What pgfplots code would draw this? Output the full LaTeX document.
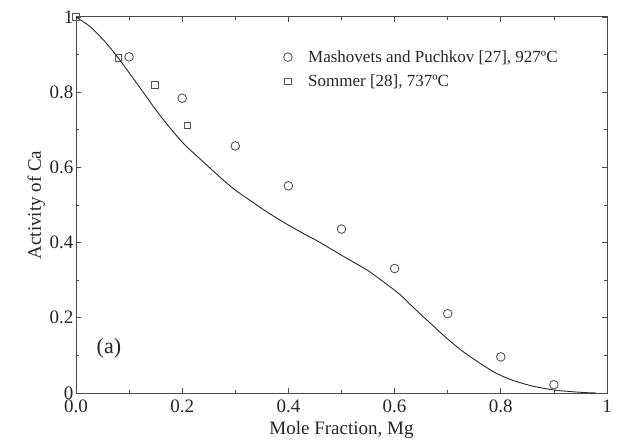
\documentclass[border=0pt]{standalone}
\usepackage{pgfplots}
\pgfplotsset{compat=1.18}
\usepackage{fontspec}
\setmainfont{Liberation Serif}
\definecolor{axgray}{HTML}{4A4A4A}
\definecolor{mkgray}{HTML}{555555}
\begin{document}
\begin{tikzpicture}
\begin{axis}[
  scale only axis,
  width=531bp, height=376bp,
  xmin=0, xmax=1, ymin=0, ymax=1,
  axis line style={axgray, line width=1pt},
  every tick/.style={axgray, line width=0.8pt},
  tick align=inside,
  major tick length=5bp,
  minor tick length=3bp,
  xtick={0,0.2,0.4,0.6,0.8,1},
  xticklabels={0.0,0.2,0.4,0.6,0.8,1},
  ytick={0,0.2,0.4,0.6,0.8,1},
  yticklabels={0,0.2,0.4,0.6,0.8,1},
  minor x tick num=1,
  minor y tick num=1,
  xtick pos=both, ytick pos=both,
  tick label style={font=\fontsize{19bp}{22bp}\selectfont, text=black!85},
  /pgf/number format/assume math mode=true,
  xticklabel style={yshift=-3bp},
  yticklabel style={xshift=1bp},
  xlabel={Mole Fraction, Mg},
  ylabel={Activity of Ca},
  label style={font=\fontsize{19bp}{22bp}\selectfont, text=black!85},
  xlabel style={yshift=-2bp},
  ylabel style={yshift=-2bp},
  legend cell align=left,
  legend style={draw=none, fill=none, at={(0.385,0.922)}, anchor=north west,
    font=\fontsize{17bp}{20bp}\selectfont, text=black!85, row sep=7bp, column sep=14bp},
]
\addplot[only marks, mark=o, mark size=4.3bp, mkgray, mark options={line width=0.9pt}]
  coordinates {(0.1,0.894) (0.2,0.784) (0.3,0.657) (0.4,0.551) (0.5,0.436) (0.6,0.331) (0.7,0.211) (0.8,0.096) (0.9,0.022)};
\addlegendentry{Mashovets and Puchkov [27], 927ºC}
\addplot[only marks, mark=square, mark size=3.3bp, mkgray, mark options={line width=0.9pt}]
  coordinates {(0,1) (0.080,0.891) (0.149,0.819) (0.210,0.712)};
\addlegendentry{Sommer [28], 737ºC}
\addplot[black!85, line width=0.9pt, smooth, tension=0.5, forget plot] coordinates {
(0,1) (0.026,0.975) (0.051,0.940) (0.077,0.896) (0.102,0.848) (0.127,0.799)
(0.152,0.750) (0.177,0.705) (0.205,0.660) (0.234,0.622) (0.265,0.582)
(0.296,0.544) (0.330,0.510) (0.359,0.482) (0.390,0.455) (0.422,0.429)
(0.455,0.404) (0.485,0.379) (0.515,0.354) (0.547,0.328) (0.575,0.300)
(0.610,0.262) (0.635,0.228) (0.667,0.186) (0.698,0.146) (0.729,0.110)
(0.761,0.079) (0.792,0.052) (0.824,0.033) (0.861,0.018) (0.900,0.008)
(0.930,0.004) (0.960,0.001) (0.980,0.000)};
\node[font=\fontsize{22bp}{26bp}\selectfont, text=black!85] at (axis cs:0.062,0.12) {(a)};
\end{axis}
\pgfresetboundingbox
\path ([xshift=-76bp,yshift=-53bp]current axis.south west) rectangle ([xshift=12bp,yshift=17bp]current axis.north east);
\end{tikzpicture}
\end{document}
